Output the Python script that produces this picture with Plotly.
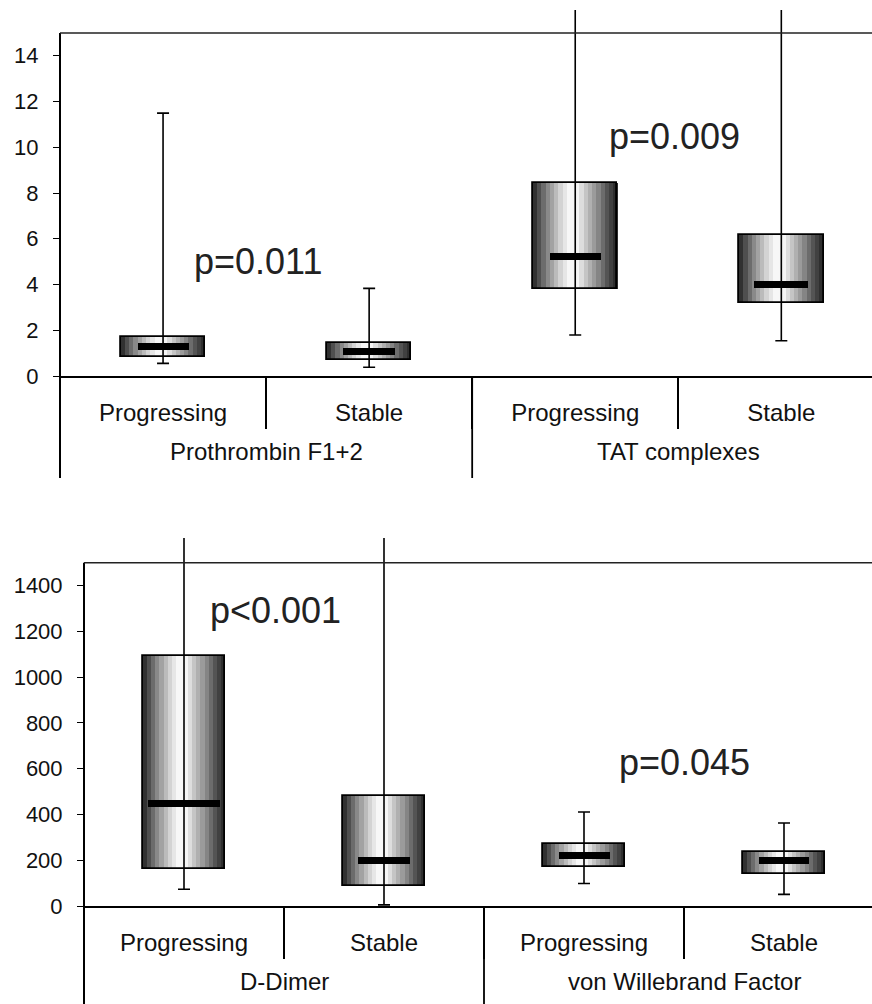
import plotly.graph_objects as go

# ---------------- data ----------------
status = ["Progressing", "Stable"]

groups_top = ["Prothrombin F1+2", "TAT complexes"]
top_lower = [0.55, 0.38, 1.79, 1.54]
top_q1 = [0.83, 0.69, 3.79, 3.20]
top_median = [1.31, 1.06, 5.22, 3.98]
top_q3 = [1.72, 1.46, 8.43, 6.17]
top_upper = [11.49, 3.83, 18.0, 18.0]
top_ticks = [0, 2, 4, 6, 8, 10, 12, 14]
top_pvalues = ["p=0.011", "p=0.009"]
top_p_y = [5.0, 10.45]

groups_bot = ["D-Dimer", "von Willebrand Factor"]
bot_lower = [73, 5, 98, 51]
bot_q1 = [160, 87, 171, 142]
bot_median = [450, 197, 222, 197]
bot_q3 = [1092, 480, 273, 236]
bot_upper = [1800, 1800, 411, 363]
bot_ticks = [0, 200, 400, 600, 800, 1000, 1200, 1400]
bot_pvalues = ["p<0.001", "p=0.045"]
bot_p_y = [1293, 626]

# ---------------- style / layout constants ----------------
W, H = 872, 1004
FONT = "Liberation Sans, Arial, sans-serif"
X_RANGE = [-0.5, 3.44]
BOX_W = 0.41
N_SLICES = 20
MED_THICK_PX = 7
# brightness stops across the box width (cylinder-like shading)
SHADE_STOPS = [(0.00, 0.13), (0.07, 0.30), (0.18, 0.55), (0.32, 0.82), (0.42, 0.97),
               (0.52, 0.97), (0.62, 0.78), (0.76, 0.55), (0.88, 0.32), (1.00, 0.15)]


def shade(f):
    for (a, va), (b, vb) in zip(SHADE_STOPS[:-1], SHADE_STOPS[1:]):
        if a <= f <= b:
            v = va + (vb - va) * (f - a) / (b - a)
            g = int(round(255 * v))
            return f"rgb({g},{g},{g})"
    return "rgb(128,128,128)"


top_med_len = [51, 52, 51, 54]
bot_med_len = [72, 52, 51, 50]
p_x_top = [0.46, 2.48]
p_x_bot = [0.455, 2.50]

panels = [
    dict(groups=groups_top, lo=top_lower, q1=top_q1, med=top_median, q3=top_q3, up=top_upper,
         ticks=top_ticks, frame=15, ymax=16.0, left_px=60, zero_px=376, top_px=10,
         ext_px=102, grp_lab_px=75, medlen=top_med_len,
         pv=top_pvalues, pvy=top_p_y, pvx=p_x_top),
    dict(groups=groups_bot, lo=bot_lower, q1=bot_q1, med=bot_median, q3=bot_q3, up=bot_upper,
         ticks=bot_ticks, frame=1500, ymax=1608, left_px=84, zero_px=906, top_px=538,
         ext_px=110, grp_lab_px=75, medlen=bot_med_len,
         pv=bot_pvalues, pvy=bot_p_y, pvx=p_x_bot),
]

fig = go.Figure()
shapes, annotations = [], []

for i, p in enumerate(panels):
    sfx = "" if i == 0 else str(i + 1)
    xa, ya = "x" + sfx, "y" + sfx
    keys = [f"{g}|{s}" for g in p["groups"] for s in status]
    labels = [s for g in p["groups"] for s in status]
    zero, top, left = p["zero_px"], p["top_px"], p["left_px"]
    height_px = zero - top
    cat_px = (W - left) / (X_RANGE[1] - X_RANGE[0])
    spans = [b - a for a, b in zip(p["q1"], p["q3"])]

    # gradient-shaded boxes
    for k in range(N_SLICES):
        f0, f1 = k / N_SLICES, (k + 1) / N_SLICES
        fig.add_trace(go.Bar(
            x=keys, y=spans, base=p["q1"],
            width=BOX_W * (f1 - f0) * 1.02, offset=-BOX_W / 2 + BOX_W * f0,
            marker=dict(color=shade((f0 + f1) / 2), line=dict(width=0)),
            xaxis=xa, yaxis=ya, showlegend=False, hoverinfo="skip"))
    # box outline
    fig.add_trace(go.Bar(
        x=keys, y=spans, base=p["q1"],
        width=BOX_W, offset=-BOX_W / 2,
        marker=dict(color="rgba(0,0,0,0)", line=dict(color="black", width=1.8)),
        xaxis=xa, yaxis=ya, showlegend=False, hoverinfo="skip"))
    # median bar (solid black)
    thick = MED_THICK_PX * p["ymax"] / height_px
    fig.add_trace(go.Bar(
        x=keys, y=[thick] * len(keys), base=[m - thick / 2 for m in p["med"]],
        width=[L / cat_px for L in p["medlen"]],
        marker=dict(color="black", line=dict(width=0)),
        xaxis=xa, yaxis=ya, showlegend=False, hoverinfo="skip"))
    # whiskers with caps
    fig.add_trace(go.Scatter(
        x=keys, y=p["med"], mode="markers",
        marker=dict(size=1, color="rgba(0,0,0,0)"),
        error_y=dict(type="data", symmetric=False,
                     array=[u - m for u, m in zip(p["up"], p["med"])],
                     arrayminus=[m - l for m, l in zip(p["med"], p["lo"])],
                     color="black", thickness=1.6, width=6),
        xaxis=xa, yaxis=ya, showlegend=False))

    xaxis = dict(domain=[left / W, 1], anchor=ya, type="category", automargin=False,
                 categoryarray=keys, categoryorder="array", range=X_RANGE,
                 tickmode="array", tickvals=keys, ticktext=labels,
                 tickson="boundaries", ticks="outside", ticklen=51, tickwidth=1.5,
                 tickcolor="black", showline=True, linecolor="black", linewidth=2.2,
                 showgrid=False, zeroline=False, ticklabelstandoff=14,
                 tickfont=dict(family=FONT, size=24, color="#111"), fixedrange=True)
    yaxis = dict(domain=[1 - zero / H, 1 - top / H], anchor=xa, range=[0, p["ymax"]],
                 automargin=False,
                 tickmode="array", tickvals=p["ticks"], ticks="outside", ticklen=6,
                 tickwidth=1.2, tickcolor="black", showline=False, showgrid=False,
                 zeroline=False, ticklabelstandoff=10,
                 tickfont=dict(family=FONT, size=22, color="#111"), fixedrange=True)
    fig.update_layout(**{"xaxis" + sfx: xaxis, "yaxis" + sfx: yaxis})

    ext = -p["ext_px"] / height_px
    # left axis line (frame + extension below axis)
    shapes.append(dict(type="line", xref=xa + " domain", yref=ya + " domain",
                       x0=0, x1=0, y0=ext, y1=p["frame"] / p["ymax"],
                       line=dict(color="black", width=2)))
    # top frame line
    shapes.append(dict(type="line", xref=xa + " domain", yref=ya,
                       x0=0, x1=1, y0=p["frame"], y1=p["frame"],
                       line=dict(color="#222", width=1.5)))
    # group divider
    shapes.append(dict(type="line", xref=xa, yref=ya + " domain",
                       x0=1.5, x1=1.5, y0=0, y1=ext,
                       line=dict(color="black", width=1.8)))
    # group labels
    for gi, g in enumerate(p["groups"]):
        annotations.append(dict(text=g, xref=xa, yref=ya + " domain",
                                x=2 * gi + 0.5, y=-p["grp_lab_px"] / height_px,
                                showarrow=False, xanchor="center", yanchor="middle",
                                font=dict(family=FONT, size=24, color="#111")))
    # p-values
    for txt, px, py in zip(p["pv"], p["pvx"], p["pvy"]):
        annotations.append(dict(text=txt, xref=xa, yref=ya, x=px, y=py,
                                showarrow=False, xanchor="center", yanchor="middle",
                                font=dict(family=FONT, size=36, color="#222")))

fig.update_layout(template="none", width=W, height=H,
                  margin=dict(l=0, r=0, t=0, b=0, pad=0, autoexpand=False),
                  paper_bgcolor="white", plot_bgcolor="white",
                  barmode="overlay", bargap=0, showlegend=False,
                  shapes=shapes, annotations=annotations)

# remove the default page margin so the figure fills the window exactly
fig.write_html("out.html", config={"displayModeBar": False},
               post_script="document.body.style.margin='0';")
